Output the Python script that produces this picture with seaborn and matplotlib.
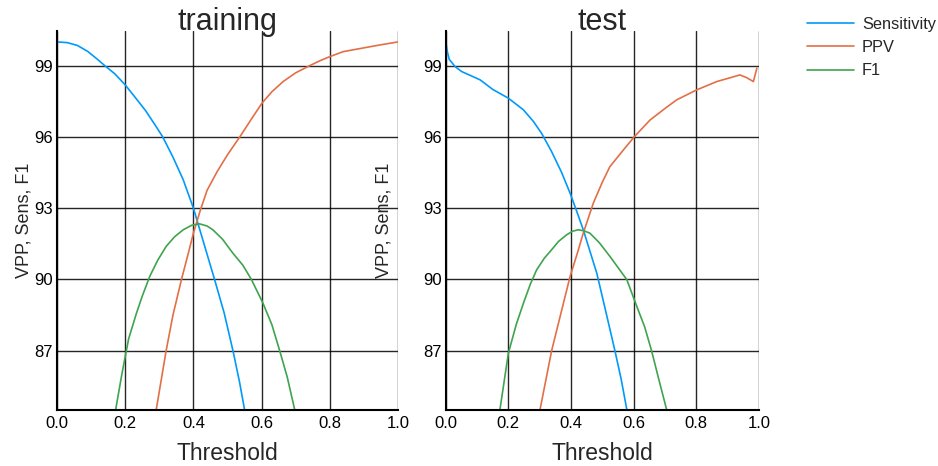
import matplotlib
matplotlib.use("Agg")
import matplotlib.pyplot as plt
import seaborn as sns
import pandas as pd

# Values (points just below 84.5 run the lines to the bottom edge).
train_sens_x = [0.0, 0.03, 0.06, 0.09, 0.12, 0.14, 0.17, 0.20, 0.23, 0.26, 0.29, 0.31, 0.34, 0.37,
                0.40, 0.43, 0.462, 0.49, 0.516, 0.535, 0.55, 0.56]
train_sens_y = [100.0, 99.97, 99.85, 99.6, 99.25, 99.0, 98.65, 98.19, 97.65, 97.1, 96.45, 96.0, 95.15, 94.2,
                93.0, 91.55, 90.0, 88.6, 87.0, 85.7, 84.52, 83.8]

train_ppv_x = [0.285, 0.291, 0.32, 0.34, 0.365, 0.385, 0.40, 0.42, 0.44, 0.47, 0.50, 0.536, 0.57, 0.601,
               0.63, 0.663, 0.70, 0.741, 0.77, 0.80, 0.839, 0.90, 0.95, 1.0]
train_ppv_y = [83.8, 84.52, 87.0, 88.5, 90.0, 91.1, 91.95, 92.9, 93.75, 94.55, 95.25, 96.0, 96.75, 97.42,
               97.9, 98.33, 98.7, 99.0, 99.2, 99.38, 99.59, 99.75, 99.88, 100.0]

train_f1_x = [0.165, 0.172, 0.19, 0.21, 0.233, 0.25, 0.272, 0.295, 0.32, 0.345, 0.37, 0.395, 0.418, 0.44,
              0.457, 0.485, 0.516, 0.545, 0.57, 0.604, 0.63, 0.653, 0.675, 0.697, 0.705]
train_f1_y = [83.8, 84.52, 86.0, 87.5, 88.58, 89.3, 90.13, 90.8, 91.39, 91.8, 92.09, 92.28, 92.34, 92.25,
              92.09, 91.7, 91.1, 90.6, 90.0, 89.0, 88.1, 87.0, 85.9, 84.52, 83.8]

test_sens_x = [0.0, 0.005, 0.011, 0.03, 0.051, 0.08, 0.11, 0.15, 0.20, 0.248, 0.28, 0.306, 0.338, 0.37,
               0.397, 0.42, 0.439, 0.46, 0.482, 0.51, 0.54, 0.56, 0.578, 0.588]
test_sens_y = [100.0, 99.6, 99.27, 98.96, 98.75, 98.58, 98.4, 98.0, 97.63, 97.14, 96.65, 96.15, 95.38, 94.5,
               93.63, 92.8, 92.09, 91.2, 90.27, 88.7, 87.0, 85.8, 84.52, 83.8]

test_ppv_x = [0.295, 0.301, 0.338, 0.37, 0.397, 0.42, 0.439, 0.471, 0.50, 0.524, 0.567, 0.602, 0.652, 0.70,
              0.737, 0.801, 0.865, 0.939, 0.96, 0.982, 0.993]
test_ppv_y = [83.8, 84.52, 87.0, 88.7, 90.13, 91.1, 91.95, 93.21, 94.1, 94.75, 95.45, 96.01, 96.71, 97.2,
              97.56, 97.98, 98.33, 98.61, 98.5, 98.33, 98.89]

test_f1_x = [0.165, 0.173, 0.20, 0.225, 0.248, 0.27, 0.29, 0.315, 0.338, 0.36, 0.386, 0.405, 0.423, 0.44,
             0.46, 0.49, 0.524, 0.55, 0.578, 0.61, 0.635, 0.657, 0.68, 0.705, 0.712]
test_f1_y = [83.8, 84.52, 86.9, 88.1, 89.0, 89.8, 90.4, 90.9, 91.25, 91.6, 91.88, 92.03, 92.09, 92.05,
             91.95, 91.55, 90.97, 90.5, 89.99, 88.86, 88.0, 87.0, 85.8, 84.52, 83.8]

series_names = ["Sensitivity", "PPV", "F1"]
palette = {"Sensitivity": "#009AFA", "PPV": "#E36F47", "F1": "#3EA44E"}


def make_frame(sens_x, sens_y, ppv_x, ppv_y, f1_x, f1_y):
    parts = []
    for name, xs, ys in zip(series_names, [sens_x, ppv_x, f1_x], [sens_y, ppv_y, f1_y]):
        parts.append(pd.DataFrame({"Threshold": xs, "value": ys, "metric": name}))
    return pd.concat(parts, ignore_index=True)


frames = {
    "training": make_frame(train_sens_x, train_sens_y, train_ppv_x, train_ppv_y, train_f1_x, train_f1_y),
    "test": make_frame(test_sens_x, test_sens_y, test_ppv_x, test_ppv_y, test_f1_x, test_f1_y),
}

sns.set_style("white")
plt.rcParams["font.family"] = ["Liberation Sans", "DejaVu Sans"]

fig = plt.figure(figsize=(9.38, 4.66), dpi=100)
ax_left = fig.add_axes([0.0608, 0.120, 0.3635, 0.8135])
ax_right = fig.add_axes([0.4752, 0.120, 0.3340, 0.8135])

# right edge of each y label, in axes coords
ylabel_x = {"training": -0.073, "test": -0.171}

for ax, (title, df) in zip([ax_left, ax_right], frames.items()):
    sns.lineplot(data=df, x="Threshold", y="value", hue="metric", palette=palette,
                 hue_order=series_names, estimator=None, sort=False,
                 linewidth=1.2, ax=ax, legend=(title == "test"))
    ax.set_xlim(0, 1)
    ax.set_ylim(84.5, 100.46)
    ax.set_xticks([0.0, 0.2, 0.4, 0.6, 0.8, 1.0])
    ax.set_yticks([87, 90, 93, 96, 99])
    ax.grid(True, color="black", linewidth=1.0, alpha=0.85)
    ax.set_axisbelow(True)
    for side in ["top", "right"]:
        ax.spines[side].set_visible(False)
    for side in ["left", "bottom"]:
        ax.spines[side].set_color("black")
        ax.spines[side].set_linewidth(1.5)
    ax.tick_params(direction="in", length=6, width=1.5, labelsize=12, colors="black")
    ax.tick_params(axis="x", pad=4)
    ax.tick_params(axis="y", pad=3)
    ax.set_title(title, fontsize=22, pad=1)
    ax.set_xlabel("Threshold", fontsize=16.5, labelpad=8)
    ax.set_ylabel("VPP, Sens, F1", fontsize=13)
    ax.yaxis.set_label_coords(ylabel_x[title], 0.5)

handles, labels = ax_right.get_legend_handles_labels()
ax_right.get_legend().remove()
leg = fig.legend(handles, labels, loc="upper left", bbox_to_anchor=(807 / 938, 1 - 17 / 466),
                 frameon=False, fontsize=11.8, handlelength=2.85, handletextpad=0.5,
                 labelspacing=0.5, borderpad=0, borderaxespad=0)
for line in leg.get_lines():
    line.set_linewidth(1.2)

fig.savefig("out.png", dpi=100)
